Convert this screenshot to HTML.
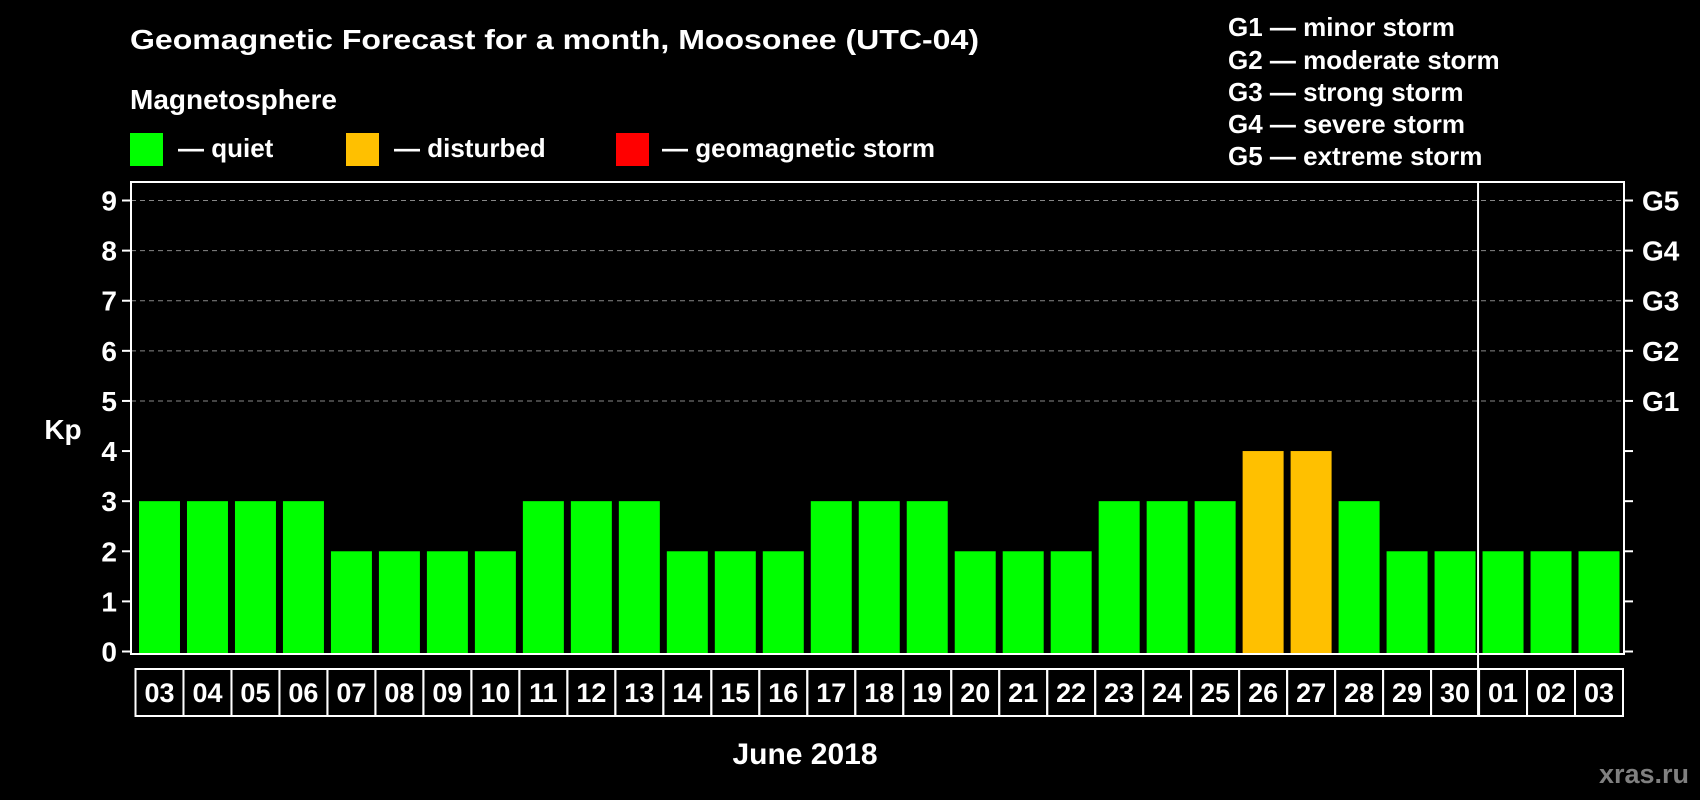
<!DOCTYPE html>
<html><head><meta charset="utf-8"><style>
html,body{margin:0;padding:0;background:#000;}
svg{display:block;font-family:"Liberation Sans",Arial,sans-serif;font-weight:bold;}
</style></head><body>
<svg id="chart" width="1700" height="800" viewBox="0 0 1700 800">
<rect width="1700" height="800" fill="#000"/>
<text x="130" y="49" fill="#fff" font-size="28" textLength="849" lengthAdjust="spacingAndGlyphs">Geomagnetic Forecast for a month, Moosonee (UTC-04)</text>
<text x="130" y="109" fill="#fff" font-size="28">Magnetosphere</text>
<g><rect x="130" y="133" width="33" height="33" fill="#00ff00"/><text x="178" y="157" fill="#fff" font-size="26">— quiet</text></g>
<g><rect x="346" y="133" width="33" height="33" fill="#ffc000"/><text x="394" y="157" fill="#fff" font-size="26">— disturbed</text></g>
<g><rect x="616" y="133" width="33" height="33" fill="#ff0000"/><text x="662" y="157" fill="#fff" font-size="26">— geomagnetic storm</text></g>
<g fill="#fff" font-size="26">
<text x="1228" y="36">G1 — minor storm</text>
<text x="1228" y="69">G2 — moderate storm</text>
<text x="1228" y="101">G3 — strong storm</text>
<text x="1228" y="133">G4 — severe storm</text>
<text x="1228" y="165">G5 — extreme storm</text>
</g>
<text x="63" y="439" fill="#fff" font-size="28" text-anchor="middle">Kp</text>
<text x="805" y="764" fill="#fff" font-size="30" text-anchor="middle">June 2018</text>
<text x="1689" y="783" fill="#808080" font-size="27" text-anchor="end">xras.ru</text>
<g id="plot"></g>
</svg>
<script>
const days = ["03","04","05","06","07","08","09","10","11","12","13","14","15","16","17","18","19","20","21","22","23","24","25","26","27","28","29","30","01","02","03"];
const kp = [3,3,3,3,2,2,2,2,3,3,3,2,2,2,3,3,3,2,2,2,3,3,3,4,4,3,2,2,2,2,2];
const yTicks = [0,1,2,3,4,5,6,7,8,9];
const gLabels = ["G1","G2","G3","G4","G5"];
const gLevels = [5,6,7,8,9];
const monthBreakIndex = 28;

const NS="http://www.w3.org/2000/svg";
const g=document.getElementById('plot');
const L=131,R=1624,T=182,B=654,y0=651.5,unit=(651.5-200.5)/9,cellX0=135.5,cellW=(1623-135.5)/days.length;
const y=v=>y0-v*unit;
const xCell=i=>cellX0+i*cellW;
function mk(t,a){const e=document.createElementNS(NS,t);for(const k in a)e.setAttribute(k,a[k]);g.appendChild(e);return e;}
yTicks.forEach(v=>{
  if(v>=5){const l=mk('line',{x1:L,x2:R,y1:y(v),y2:y(v),stroke:'#888','stroke-width':1,'stroke-dasharray':'5,4'});
  
  }
  const t1=mk('line',{x1:122,x2:L,y1:y(v),y2:y(v),stroke:'#fff','stroke-width':2});
  
  
  const t2=mk('line',{x1:R,x2:1633,y1:y(v),y2:y(v),stroke:'#fff','stroke-width':2});
  
  
  const tx=mk('text',{x:117,y:y(v)+10,fill:'#fff','font-size':28,'text-anchor':'end'});tx.textContent=v;
  
  
});
gLabels.forEach((s,i)=>{
  const tx=mk('text',{x:1642,y:y(gLevels[i])+10,fill:'#fff','font-size':28});tx.textContent=s;
  
  
});
kp.forEach((v,i)=>{
  const col=v>=5?'#ff0000':(v>=4?'#ffc000':'#00ff00');
  const r=mk('rect',{x:xCell(i)+3.5,y:y(v),width:cellW-7,height:B-y(v)-1,fill:col});
  
  
});
const fr=mk('rect',{x:L,y:T,width:R-L,height:B-T,fill:'none',stroke:'#fff','stroke-width':2});


const dv=mk('line',{x1:xCell(monthBreakIndex)-1,x2:xCell(monthBreakIndex)-1,y1:T,y2:716,stroke:'#fff','stroke-width':2});


days.forEach((d,i)=>{
  const c=mk('rect',{x:xCell(i),y:669,width:cellW,height:47,fill:'none',stroke:'#fff','stroke-width':2});
  
  
  const t=mk('text',{x:xCell(i)+cellW/2,y:702,fill:'#fff','font-size':27,'text-anchor':'middle'});t.textContent=d;
  
  
});
</script>
</body></html>
